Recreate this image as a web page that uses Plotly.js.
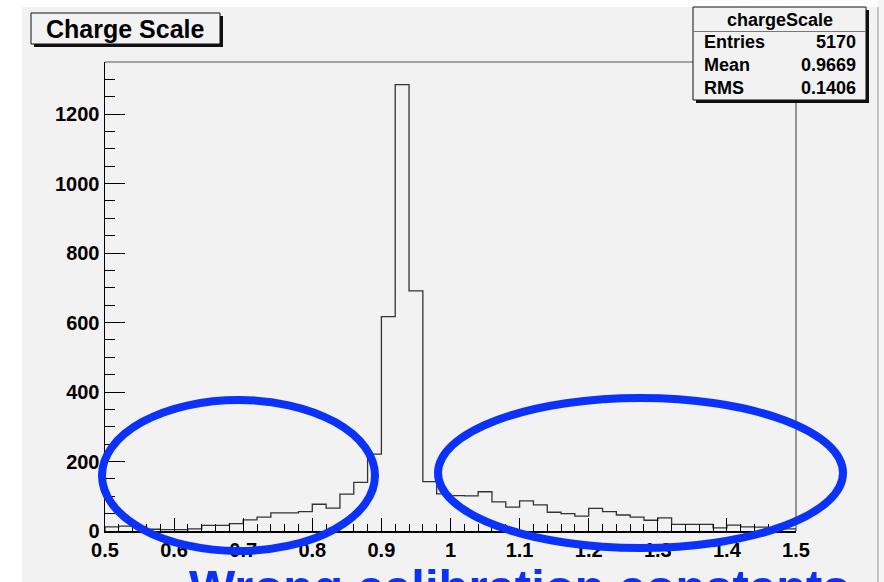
<!DOCTYPE html>
<html>
<head>
<meta charset="utf-8">
<script src="https://cdn.plot.ly/plotly-3.0.1.min.js"></script>
<style>html,body{margin:0;padding:0;background:#fff;}#chart{width:884px;height:582px;}</style>
</head>
<body>
<div id="chart"></div>
<script>
// Histogram "chargeScale": lower bin edges (width 0.02) and counts
const binLow = [0.50,0.52,0.54,0.56,0.58,0.60,0.62,0.64,0.66,0.68,
                0.70,0.72,0.74,0.76,0.78,0.80,0.82,0.84,0.86,0.88,
                0.90,0.92,0.94,0.96,0.98,1.00,1.02,1.04,1.06,1.08,
                1.10,1.12,1.14,1.16,1.18,1.20,1.22,1.24,1.26,1.28,
                1.30,1.32,1.34,1.36,1.38,1.40,1.42,1.44,1.46,1.48];
const counts = [12,14,12,5,4,4,6,16,16,21,
                32,40,52,52,56,77,66,106,140,221,
                617,1285,691,142,107,102,101,113,84,69,
                87,75,54,50,43,65,56,46,40,31,
                38,19,19,19,9,17,12,11,8,6];
const binWidth = 0.02;
const xTickVals = [0.5,0.6,0.7,0.8,0.9,1.0,1.1,1.2,1.3,1.4,1.5];
const xTickText = ["0.5","0.6","0.7","0.8","0.9","1","1.1","1.2","1.3","1.4","1.5"];
const yTickVals = [0,200,400,600,800,1000,1200];
const yTickText = ["0","200","400","600","800","1000","1200"];
const titleText = "Charge Scale";
const statsName = "chargeScale";
const statsLabels = ["Entries","Mean","RMS"];
const statsValues = ["5170","0.9669","0.1406"];
const noteText = "Wrong calibration constants";

// step outline
const xs = [binLow[0]], ys = [0];
for (let i = 0; i < binLow.length; i++) { xs.push(binLow[i]); ys.push(counts[i]); }
xs.push(binLow[binLow.length-1] + binWidth); ys.push(0);

const W = 884, H = 582, L = 105, R = 796, T = 62, B = 531;
const px = x => (x - L) / (R - L);
const py = y => (B - y) / (B - T);

const BLUE = "#0a32fa";
const BG = "#f2f2f2";
const shapes = [
  // canvas background
  {type:"rect", xref:"paper", yref:"paper", x0:px(22), x1:px(878), y0:py(7), y1:py(600), fillcolor:BG, line:{width:0}, layer:"below"},
  {type:"rect", xref:"paper", yref:"paper", x0:px(878), x1:px(884), y0:py(0), y1:py(600), fillcolor:"#f5f5f5", line:{width:0}, layer:"below"},
  {type:"line", xref:"paper", yref:"paper", x0:px(878), x1:px(878), y0:py(7), y1:py(600), line:{color:"#c4c4c4", width:2}, layer:"below"},
  // frame top/right
  {type:"line", xref:"paper", yref:"paper", x0:0, x1:1, y0:1, y1:1, line:{color:"#555", width:1.2}, layer:"above"},
  {type:"line", xref:"paper", yref:"paper", x0:1, x1:1, y0:0, y1:1, line:{color:"#555", width:1.2}, layer:"above"},
  // title box
  {type:"rect", xref:"paper", yref:"paper", x0:px(34), x1:px(223), y0:py(16), y1:py(47), fillcolor:"#111", line:{width:0}, layer:"above"},
  {type:"rect", xref:"paper", yref:"paper", x0:px(31), x1:px(220), y0:py(13), y1:py(44), fillcolor:BG, line:{color:"#111", width:1}, layer:"above"},
  // stats box
  {type:"rect", xref:"paper", yref:"paper", x0:px(696), x1:px(869), y0:py(10), y1:py(103), fillcolor:"#111", line:{width:0}, layer:"above"},
  {type:"rect", xref:"paper", yref:"paper", x0:px(693), x1:px(866), y0:py(7), y1:py(100), fillcolor:BG, line:{color:"#111", width:1}, layer:"above"},
  {type:"line", xref:"paper", yref:"paper", x0:px(693), x1:px(866), y0:py(31.5), y1:py(31.5), line:{color:"#777", width:1}, layer:"above"},
  // ellipses
  {type:"circle", xref:"paper", yref:"paper", x0:px(102), x1:px(375), y0:py(551), y1:py(400), line:{color:BLUE, width:8}, layer:"above"},
  {type:"circle", xref:"paper", yref:"paper", x0:px(438), x1:px(843), y0:py(548), y1:py(398), line:{color:BLUE, width:8}, layer:"above"}
];

const FONT = "Liberation Sans, Arial, Helvetica, sans-serif";
const annotations = [
  {xref:"paper", yref:"paper", x:px(125.5), y:py(29), text:titleText, showarrow:false, xanchor:"center", yanchor:"middle",
   font:{family:FONT, size:25, color:"#000", weight:"bold"}},
  {xref:"paper", yref:"paper", x:px(780), y:py(19.5), text:statsName, showarrow:false, xanchor:"center", yanchor:"middle",
   font:{family:FONT, size:18, color:"#000", weight:"bold"}}
];
const rowY = [42, 65, 88];
for (let i = 0; i < statsLabels.length; i++) {
  annotations.push({xref:"paper", yref:"paper", x:px(702), y:py(rowY[i]), text:statsLabels[i], showarrow:false, xanchor:"left", yanchor:"middle",
    font:{family:FONT, size:18, color:"#000", weight:"bold"}});
  annotations.push({xref:"paper", yref:"paper", x:px(858), y:py(rowY[i]), text:statsValues[i], showarrow:false, xanchor:"right", yanchor:"middle",
    font:{family:FONT, size:18, color:"#000", weight:"bold"}});
}
annotations.push({xref:"paper", yref:"paper", x:px(519), y:py(558), text:noteText, showarrow:false, xanchor:"center", yanchor:"top",
  font:{family:FONT, size:49, color:BLUE, weight:"bold"}});

const trace = {x: xs, y: ys, type:"scatter", mode:"lines", line:{shape:"hv", color:"#333", width:1.3}, hoverinfo:"skip"};

const layout = {
  width: W, height: H,
  margin: {l: L, r: W - R, t: T, b: H - B, pad: 0},
  paper_bgcolor: "#ffffff",
  plot_bgcolor: "rgba(0,0,0,0)",
  showlegend: false,
  xaxis: {range:[0.5,1.5], tickvals:xTickVals, ticktext:xTickText, ticks:"inside", ticklen:13, tickwidth:1, tickcolor:"#000",
    showline:true, linecolor:"#000", linewidth:1.5, showgrid:false, zeroline:false,
    minor:{tickvals:binLow.concat([1.5]), ticks:"inside", ticklen:7, tickcolor:"#000", tickwidth:1},
    tickfont:{family:FONT, size:20, color:"#000", weight:"bold"}},
  yaxis: {range:[0,1350], tickvals:yTickVals, ticktext:yTickText, ticks:"inside", ticklen:20, tickwidth:1, tickcolor:"#000",
    showline:true, linecolor:"#000", linewidth:1.5, showgrid:false, zeroline:false,
    minor:{dtick:50, ticks:"inside", ticklen:10, tickcolor:"#000", tickwidth:1},
    tickfont:{family:FONT, size:20, color:"#000", weight:"bold"}},
  shapes: shapes,
  annotations: annotations
};
Plotly.newPlot("chart", [trace], layout, {staticPlot:true, displayModeBar:false});
</script>
</body>
</html>
